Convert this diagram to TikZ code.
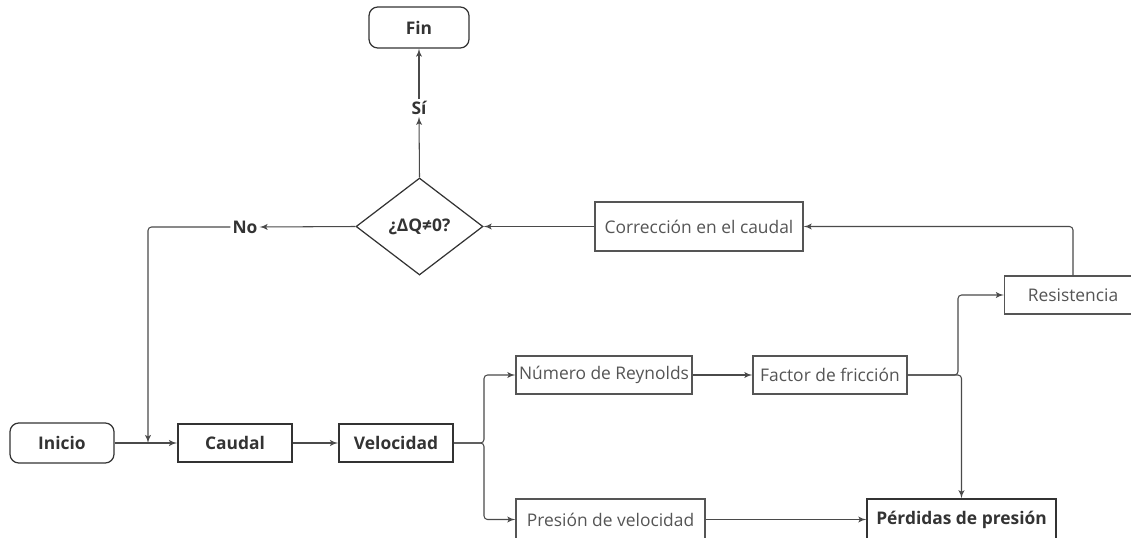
\documentclass[tikz,border=0pt]{standalone}
\usepackage{fontspec}
\setmainfont{Open Sans}
\usetikzlibrary{arrows, shapes.geometric}
\definecolor{linegray}{HTML}{4A4A4A}
\definecolor{textgray}{HTML}{555555}
\definecolor{darktext}{HTML}{333333}

\begin{document}
\begin{tikzpicture}[x=0.02cm, y=-0.02cm, >=latex', font=\fontsize{9.9}{11}\selectfont]
    \tikzstyle{elem}=[draw=textgray, line width=0.7pt, text=textgray, rectangle, minimum height=0.76cm, inner sep=1pt]
    \tikzstyle{main}=[draw=darktext, line width=1.1pt, text=darktext, rectangle, minimum height=0.76cm, font=\fontsize{9.9}{11}\selectfont\bfseries]
    \tikzstyle{term}=[main, line width=0.7pt, rounded corners=5pt]
    \tikzstyle{lbl}=[text=darktext, font=\fontsize{9.9}{11}\selectfont\bfseries, inner sep=1pt]
    \tikzstyle{flow}=[->, draw=linegray, line width=0.6pt, rounded corners=2pt]
  \useasboundingbox (0,0) rectangle (1131,537);

  \node (inicio) at (62,443) [term, minimum width=2.08cm, minimum height=0.8cm] {Inicio};
  \node (caudal) at (235,443) [main, minimum width=2.28cm] {Caudal};
  \node (vel) at (396,443) [main, minimum width=2.28cm] {Velocidad};
  \node (rey) at (604,375) [elem, minimum width=3.52cm] {Número de Reynolds};
  \node (fric) at (830,375) [elem, minimum width=3.08cm] {Factor de fricción};
  \node (pvel) at (610.5,519.5) [elem, minimum width=3.78cm, minimum height=0.82cm] {Presión de velocidad};
  \node (perd) at (961.5,519.5) [main, line width=0.8pt, minimum width=3.78cm, minimum height=0.82cm] {Pérdidas de presión};
  \node (res) at (1073,295) [elem, minimum width=2.74cm] {Resistencia};
  \node (corr) at (699,226.5) [elem, minimum width=4.16cm, minimum height=0.98cm] {Corrección en el caudal};
  \node (dq) at (419.5,226.5) [draw=darktext, line width=0.7pt, diamond, aspect=1.3, minimum width=2.54cm, minimum height=1.94cm, inner sep=0pt, lbl] {¿ΔQ≠0?};
  \node (fin) at (419,27.5) [term, minimum width=2cm, minimum height=0.82cm] {Fin};
  \node (si) at (419,108) [lbl] {Sí};
  \node (no) at (245,227) [lbl] {No};

  \coordinate (j1) at (148,443); % invisible node
  \coordinate (j2) at (484,443); % invisible node
  \coordinate (j3) at (958,375); % invisible node

  \draw[flow] (inicio) to (caudal);
  \draw[flow] (caudal) to (vel);
  \draw[flow] (no.west) -| (j1);
  \draw[flow] (vel.east) -- (j2) |- (rey.west);
  \draw[flow] (vel.east) -- (j2) |- (pvel.west);
  \draw[flow] (rey) to (fric);
  \draw[flow] (fric.east) -- (j3) |- (res.west);
  \draw[flow] (fric.east) -| (perd.north);
  \draw[flow] (pvel) to (perd);
  \draw[flow] (res.north) |- (corr.east);
  \draw[flow] (corr) to (dq);
  \draw[flow] (dq.west) to (no.east);
  \draw[flow] (dq.north) to (si.south);
  \draw[flow] (si.north) to (fin.south);
\end{tikzpicture}
\end{document}
